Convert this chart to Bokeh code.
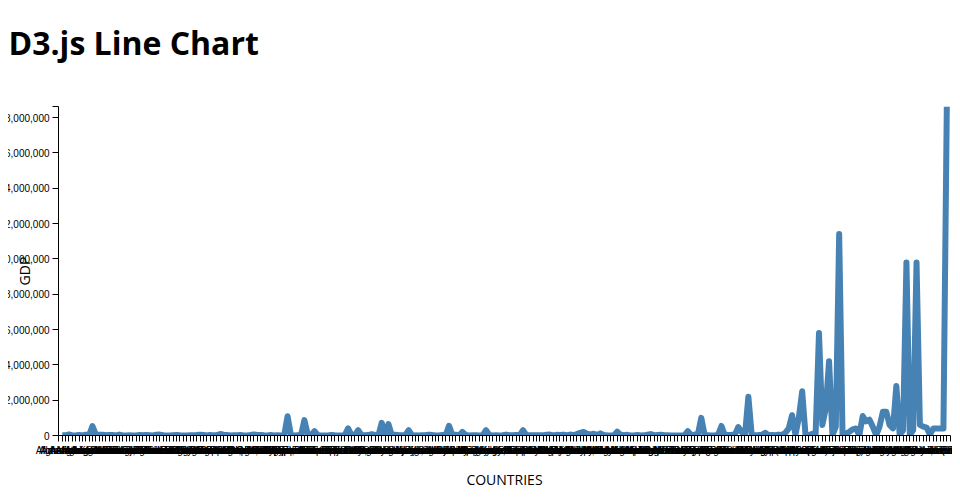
from bokeh.plotting import figure
from bokeh.models import Range1d, FixedTicker, NumeralTickFormatter, ColumnDataSource, Title
from bokeh.embed import file_html
from bokeh.resources import INLINE

countries = sorted([
    "Afghanistan", "Albania", "Algeria", "American Samoa", "Andorra", "Angola", "Antigua and Barbuda", "Argentina", "Armenia", "Aruba",
    "Australia", "Austria", "Azerbaijan", "Bahamas, The", "Bahrain", "Bangladesh", "Barbados", "Belarus", "Belgium", "Belize",
    "Benin", "Bermuda", "Bhutan", "Bolivia", "Bosnia and Herzegovina", "Botswana", "Brazil", "British Virgin Islands", "Brunei Darussalam", "Bulgaria",
    "Burkina Faso", "Burundi", "Cabo Verde", "Cambodia", "Cameroon", "Canada", "Cayman Islands", "Central African Republic", "Chad", "Channel Islands",
    "Chile", "China", "Colombia", "Comoros", "Congo, Dem. Rep.", "Congo, Rep.", "Costa Rica", "Cote d'Ivoire", "Croatia", "Cuba",
    "Curacao", "Cyprus", "Czech Republic", "Denmark", "Djibouti", "Dominica", "Dominican Republic", "Ecuador", "Egypt, Arab Rep.", "El Salvador",
    "Equatorial Guinea", "Eritrea", "Estonia", "Eswatini", "Ethiopia", "Faroe Islands", "Fiji", "Finland", "France", "French Polynesia",
    "Gabon", "Gambia, The", "Georgia", "Germany", "Ghana", "Gibraltar", "Greece", "Greenland", "Grenada", "Guam",
    "Guatemala", "Guinea", "Guinea-Bissau", "Guyana", "Haiti", "Honduras", "Hong Kong SAR, China", "Hungary", "Iceland", "India",
    "Indonesia", "Iran, Islamic Rep.", "Iraq", "Ireland", "Isle of Man", "Israel", "Italy", "Jamaica", "Japan", "Jordan",
    "Kazakhstan", "Kenya", "Kiribati", "Korea, Dem. People's Rep.", "Korea, Rep.", "Kosovo", "Kuwait", "Kyrgyz Republic", "Lao PDR", "Latvia",
    "Lebanon", "Lesotho", "Liberia", "Libya", "Liechtenstein", "Lithuania", "Luxembourg", "Macao SAR, China", "Madagascar", "Malawi",
    "Malaysia", "Maldives", "Mali", "Malta", "Marshall Islands", "Mauritania", "Mauritius", "Mexico", "Micronesia, Fed. Sts.", "Moldova",
    "Monaco", "Mongolia", "Montenegro", "Morocco", "Mozambique", "Myanmar", "Namibia", "Nauru", "Nepal", "Netherlands",
    "New Caledonia", "New Zealand", "Nicaragua", "Niger", "Nigeria", "North Macedonia", "Northern Mariana Islands", "Norway", "Oman", "Pakistan",
    "Palau", "Panama", "Papua New Guinea", "Paraguay", "Peru", "Philippines", "Poland", "Portugal", "Puerto Rico", "Qatar",
    "Romania", "Russian Federation", "Rwanda", "Samoa", "San Marino", "Sao Tome and Principe", "Saudi Arabia", "Senegal", "Serbia", "Seychelles",
    "Sierra Leone", "Singapore", "Sint Maarten (Dutch part)", "Slovak Republic", "Slovenia", "Solomon Islands", "Somalia", "South Africa", "South Sudan", "Spain",
    "Sri Lanka", "St. Kitts and Nevis", "St. Lucia", "St. Martin (French part)", "St. Vincent and the Grenadines", "Sudan", "Suriname", "Sweden", "Switzerland", "Syrian Arab Republic",
    "Tajikistan", "Tanzania", "Thailand", "Timor-Leste", "Togo", "Tonga", "Trinidad and Tobago", "Tunisia", "Turkey", "Turkmenistan",
    "Turks and Caicos Islands", "Tuvalu", "Uganda", "Ukraine", "United Arab Emirates", "United Kingdom", "United States", "Uruguay", "Uzbekistan", "Vanuatu",
    "Venezuela, RB", "Vietnam", "Virgin Islands (U.S.)", "West Bank and Gaza", "Yemen, Rep.", "Zambia", "Zimbabwe", "Aland Islands", "Anguilla", "Antarctica",
    "Bonaire", "Bouvet Island", "Chagos Islands", "Christmas Island", "Cocos Islands", "Cook Islands", "Falkland Islands", "French Guiana", "French Southern Lands", "Guadeloupe",
    "Guernsey", "Heard Island", "Holy See", "Jersey", "Martinique", "Mayotte", "Montserrat", "Niue", "Norfolk Island", "Pitcairn",
    "Reunion", "Saint Barthelemy", "Saint Helena", "Saint Pierre and Miquelon", "Svalbard", "Taiwan", "Tokelau", "Wallis and Futuna", "Western Sahara", "South Georgia",
    "Ascension Island", "Tristan da Cunha", "Akrotiri", "Dhekelia", "Clipperton Island", "Wake Island", "Midway Islands", "Navassa Island", "Jan Mayen", "Baker Island",
    "Howland Island", "Jarvis Island", "Johnston Atoll", "Kingman Reef",
])

gdp = [
    19500, 12000, 60000, 650, 2900, 35000, 1500, 45000, 10500, 530000,
    52000, 39000, 37800, 11300, 31900, 22100, 4500, 50000, 4700, 1800,
    9200, 5600, 2200, 33800, 16900, 30000, 15700, 1000, 40000, 53200,
    12100, 3000, 1600, 20000, 32200, 15500, 4500, 1800, 10100, 9400,
    24700, 45000, 28200, 600, 37100, 7900, 17100, 80000, 50500, 30000,
    3100, 20900, 19500, 30600, 1900, 500, 27200, 60000, 33200, 24800,
    11000, 6200, 23100, 3800, 12600, 2800, 4700, 1090000, 24400, 5400,
    14000, 1000, 870000, 54000, 23000, 250000, 19500, 2200, 1000, 5800,
    30000, 8600, 1100, 3500, 8000, 400000, 21000, 12500, 300000, 20000,
    15000, 22000, 70000, 26000, 5700, 720000, 8000, 640000, 14000, 40000,
    13000, 16000, 4100, 300000, 21000, 7200, 6500, 11000, 17000, 50000,
    24000, 2300, 2100, 26000, 6000, 550000, 42000, 45000, 11000, 200000,
    29600, 4200, 14000, 11000, 200, 4700, 300000, 25000, 300, 8000,
    6500, 11200, 50000, 10300, 11000, 25000, 10700, 300000, 21000, 14000,
    9800, 18000, 13200, 8100, 39000, 50000, 3000, 37000, 27000, 50000,
    300, 55000, 20000, 80000, 150000, 200000, 100000, 50000, 100000, 35000,
    120000, 30000, 8400, 800, 1600, 220000, 40000, 14600, 38000, 1500,
    3700, 29700, 1100, 9500, 44000, 80000, 6800, 30000, 40000, 12000,
    8100, 1000, 1700, 600, 800, 9500, 250000, 14000, 51000, 60000,
    1000000, 20000, 16000, 2500, 4400, 40000, 540000, 12000, 30000, 36000,
    50000, 480000, 200000, 10000, 2200000, 30000, 18000, 25000, 40000, 150000,
    20000, 25000, 15000, 50000, 30000, 150000, 400000, 1150000, 50000, 1000000,
    2500000, 20000, 20000, 100000, 100000, 5800000, 600000, 1500000, 4200000, 10000,
    500000, 11400000, 50000, 100000, 200000, 350000, 400000, 10000, 1100000, 800000,
    900000, 500000, 10000, 500000, 1350000, 1350000, 600000, 400000, 2800000, 20000,
    300000, 9800000, 10000, 300000, 9800000, 600000, 500000, 450000, 50000, 400000,
    400000, 400000, 400000, 18624475,
]

y_ticks = [0, 2000000, 4000000, 6000000, 8000000, 10000000, 12000000, 14000000, 16000000, 18000000]

n = len(countries)
idx = list(range(n))
src = ColumnDataSource(dict(idx=idx, country=countries, gdp=gdp))
pad = 1.1
ymax = max(gdp)

p = figure(
    frame_width=892, frame_height=329,
    x_range=Range1d(-pad, n - 1 + pad), y_range=Range1d(0, ymax),
    output_backend="svg", toolbar_location=None,
    min_border_left=50, min_border_right=2, min_border_top=98, min_border_bottom=55,
    margin=(8, 0, 0, 8),
)
p.outline_line_color = None
p.xgrid.visible = False
p.ygrid.visible = False
p.background_fill_color = "white"
p.border_fill_color = "white"

# spacer (nearest the frame) then the real title above it
p.add_layout(Title(text=" ", text_font_size="2px", standoff=34), "above")
p.add_layout(Title(text="D3.js Line Chart", text_font="Open Sans", text_font_size="32px",
                   text_font_style="bold", text_color="#000000", align="left",
                   offset=-50, standoff=10), "above")

p.line(x="idx", y="gdp", source=src, line_color="#4682b4", line_width=6, line_join="round")

tick_font = "Liberation Sans"
for ax in (p.xaxis[0], p.yaxis[0]):
    ax.axis_line_color = "#000000"
    ax.major_tick_line_color = "#000000"
    ax.minor_tick_line_color = "#000000"
    ax.major_tick_out = 6
    ax.major_tick_in = 0
    ax.minor_tick_out = 6
    ax.minor_tick_in = 0
    ax.major_label_standoff = 3
    ax.major_label_text_font = tick_font
    ax.major_label_text_font_size = "10px"
    ax.major_label_text_color = "#000000"
    ax.axis_label_text_font = "Open Sans"
    ax.axis_label_text_font_size = "14px"
    ax.axis_label_text_font_style = "normal"
    ax.axis_label_text_color = "#000000"

p.yaxis.ticker = FixedTicker(ticks=y_ticks, minor_ticks=[ymax])
p.yaxis.formatter = NumeralTickFormatter(format="0,0")
p.yaxis.axis_label = "GDP"
p.yaxis.axis_label_standoff = -38

p.xaxis.ticker = FixedTicker(ticks=idx, minor_ticks=[-pad, n - 1 + pad])
p.xaxis.major_label_overrides = {i: c for i, c in enumerate(countries)}
p.xaxis.axis_label = "COUNTRIES"
p.xaxis.axis_label_standoff = 11

open("out.html", "w").write(file_html(p, INLINE))
